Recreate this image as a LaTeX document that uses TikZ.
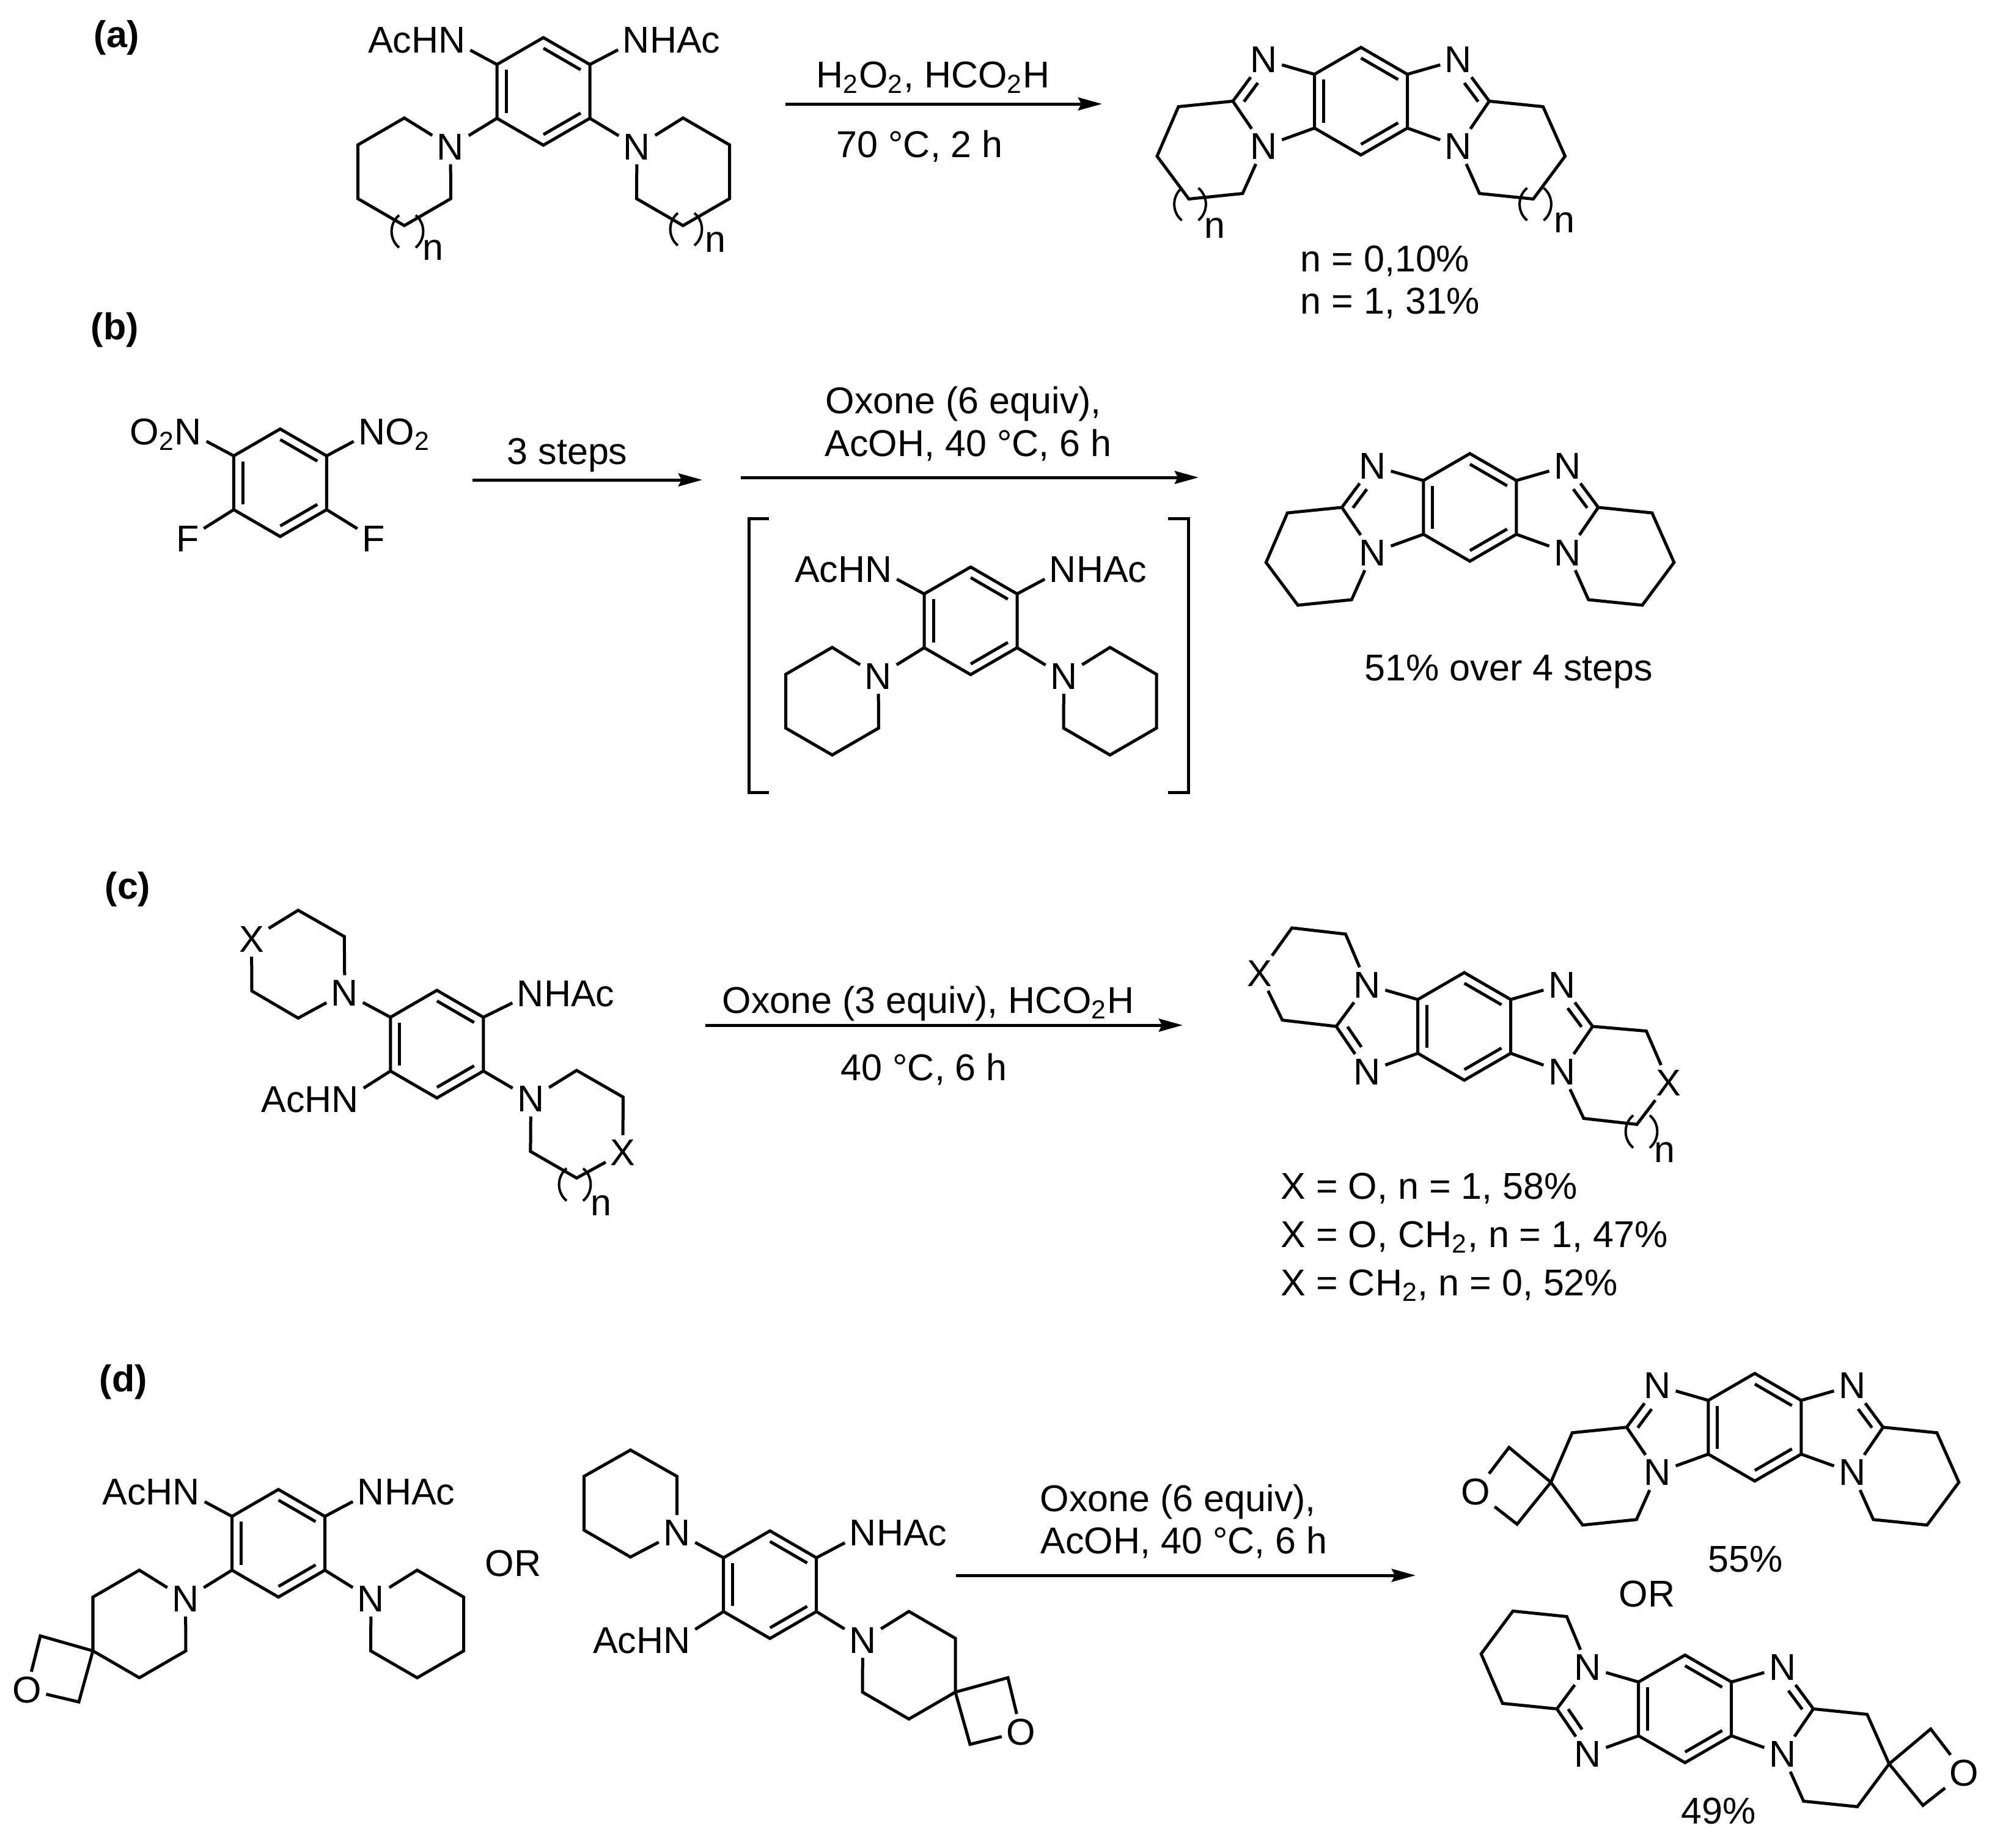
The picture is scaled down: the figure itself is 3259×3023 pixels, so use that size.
\documentclass[tikz,border=0pt]{standalone}
\usepackage{fontspec}
\setmainfont{Liberation Sans}
\usetikzlibrary{arrows.meta, calc}

\tikzset{
    every node/.style={font=\fontsize{17.36}{21}\selectfont},
    bond/.style={line width=.05cm},
    paren/.style={line width=.04cm},
    atom/.style={inner sep=2pt},
    txt/.style={anchor=base west, inner sep=0pt},
    rxn/.style={line width=.05cm, -{Stealth[length=.39cm, width=.21cm, inset=.05cm]}}
}

\newcommand{\inbond}[4]{
    \draw[bond] ($(#1)!#3!(#2)!.15cm!90:(#2)$) -- ($(#1)!#4!(#2)!.15cm!90:(#2)$);
}
\newcommand{\arene}[3]{
    \coordinate (#1t) at (#2, #3-88);
    \coordinate (#1ul) at (#2-76, #3-44);
    \coordinate (#1ur) at (#2+76, #3-44);
    \coordinate (#1ll) at (#2-76, #3+44);
    \coordinate (#1lr) at (#2+76, #3+44);
    \coordinate (#1b) at (#2, #3+88);
    \draw[bond] (#1t) -- (#1ul) -- (#1ll) -- (#1b) -- (#1lr) -- (#1ur) -- cycle;
    \inbond{#1ur}{#1t}{.1}{.9}
    \inbond{#1ul}{#1ll}{.1}{.9}
    \inbond{#1b}{#1lr}{.1}{.9}
}
\newcommand{\fused}[3]{
    \arene{#1}{#2}{#3}
    \node[atom] (#1n1) at (#2-159, #3-68) {N};
    \node[atom] (#1n2) at (#2-159, #3+74) {N};
    \node[atom] (#1n3) at (#2+159.5, #3-68) {N};
    \node[atom] (#1n4) at (#2+159.5, #3+74) {N};
    \coordinate (#1cl) at (#2-209.5, #3);
    \coordinate (#1cr) at (#2+210, #3);
    \draw[bond] (#1ul) -- (#1n1);
    \draw[bond] (#1ll) -- (#1n2);
    \draw[bond] (#1ur) -- (#1n3);
    \draw[bond] (#1lr) -- (#1n4);
    \draw[bond] (#1n1) -- (#1cl) -- (#1n2);
    \draw[bond] (#1n3) -- (#1cr) -- (#1n4);
    \inbond{#1cr}{#1n3}{.12}{.57}
}
\newcommand{\lring}[3]{
    \draw[bond] (#1cl) -- ++(-89, #3*9) -- ++(-35, #3*81) coordinate (#1sl)
        -- ++(52, #3*70) -- ++(88, #3*-9) -- (#1#2);
}
\newcommand{\rring}[1]{
    \draw[bond] (#1cr) -- ++(88, 9) -- ++(36, 81) coordinate (#1sr)
        -- ++(-52, 70) -- ++(-88, -9) -- (#1n4);
}
\newcommand{\pipring}[2]{
    \draw[bond] (#1) -- ++(#2*75.5, -47) -- ++(#2*76, 44) -- ++(0, 88) coordinate (#1s)
        -- ++(#2*-76, 44) -- ++(#2*-76, -44) -- (#1);
}
\newcommand{\loopn}[2]{
    \draw[paren] (#1-13.5, #2-26.5) .. controls (#1-30, #2-13) and (#1-30, #2+13) .. (#1-13.5, #2+26.5);
    \draw[paren] (#1+13.5, #2-26.5) .. controls (#1+30, #2-13) and (#1+30, #2+13) .. (#1+13.5, #2+26.5);
}

\begin{document}
\begin{tikzpicture}[x=.01cm, y=-.01cm]
            \useasboundingbox (0, 0) rectangle (3259, 3023);

            \node[txt] (taga) at (153, 77) {\textbf{(a)}};
            \node[txt] (tagb) at (148, 555) {\textbf{(b)}};
            \node[txt] (tagc) at (171, 1470) {\textbf{(c)}};
            \node[txt] (tagd) at (162, 2276) {\textbf{(d)}};

            \arene{a1}{889}{149.5}
            \node[atom] (a1ac) at (739.5, 66) {\llap{AcH}N};
            \node[atom] (a1nh) at (1041, 66) {N\rlap{HAc}};
            \node[atom] (a1nl) at (737, 240) {N};
            \node[atom] (a1nr) at (1042, 240) {N};
            \draw[bond] (a1ul) -- (a1ac);
            \draw[bond] (a1ur) -- (a1nh);
            \draw[bond] (a1ll) -- (a1nl);
            \draw[bond] (a1lr) -- (a1nr);
            \pipring{a1nl}{-1}
            \pipring{a1nr}{1}
            \loopn{666.5}{378.5}
            \loopn{1122.5}{375}
            \node[txt] (a1n) at (691, 425) {n};
            \node[txt] (a1m) at (1153, 412.5) {n};

            \coordinate (ra0) at (1285, 170);
            \coordinate (ra1) at (1803, 170);
            \draw[rxn] (ra0) -- (ra1);
            \node[txt] (rat) at (1335, 143) {H\textsubscript{2}O\textsubscript{2}, HCO\textsubscript{2}H};
            \node[txt] (rab) at (1368, 257) {70 °C, 2 h};

            \fused{ap}{2226.5}{165.5}
            \inbond{apn1}{apcl}{.43}{.88}
            \lring{ap}{n2}{1}
            \rring{ap}
            \loopn{1947}{334}
            \loopn{2512}{334}
            \node[txt] (apn) at (1970, 389) {n};
            \node[txt] (apm) at (2542, 380) {n};
            \node[txt] (apy) at (2127, 444) {n = 0,10\%};
            \node[txt] (apz) at (2127, 513) {n = 1, 31\%};

            \arene{b0}{458.4}{789.7}
            \node[atom] (b0no) at (308, 706) {\smash{\llap{O\textsubscript{2}}}N};
            \node[atom] (b0np) at (608.5, 706) {N\smash{\rlap{O\textsubscript{2}}}};
            \node[atom] (b0fl) at (307, 881) {F};
            \node[atom] (b0fr) at (611, 881) {F};
            \draw[bond] (b0ul) -- (b0no);
            \draw[bond] (b0ur) -- (b0np);
            \draw[bond] (b0ll) -- (b0fl);
            \draw[bond] (b0lr) -- (b0fr);

            \coordinate (rb0) at (773, 785);
            \coordinate (rb1) at (1149, 785);
            \draw[rxn] (rb0) -- (rb1);
            \node[txt] (rbs) at (829, 759) {3 steps};
            \coordinate (rc0) at (1212, 781);
            \coordinate (rc1) at (1961, 781);
            \draw[rxn] (rc0) -- (rc1);
            \node[txt] (rct) at (1350, 676) {Oxone (6 equiv),};
            \node[txt] (rcb) at (1349, 746) {AcOH, 40 °C, 6 h};

            \foreach \name/\x/\y in {bka/1258/848, bkb/1225/848, bkc/1225/1296, bkd/1258/1296,
                    bke/1911/848, bkf/1944/848, bkg/1944/1296, bkh/1911/1296}
                \coordinate (\name) at (\x, \y);
            \draw[bond] (bka) -- (bkb) -- (bkc) -- (bkd);
            \draw[bond] (bke) -- (bkf) -- (bkg) -- (bkh);

            \arene{b1}{1588}{1015.5}
            \node[atom] (b1ac) at (1437.5, 931.5) {\llap{AcH}N};
            \node[atom] (b1nh) at (1739, 931.5) {N\rlap{HAc}};
            \node[atom] (b1nl) at (1437, 1106) {N};
            \node[atom] (b1nr) at (1740.5, 1106) {N};
            \draw[bond] (b1ul) -- (b1ac);
            \draw[bond] (b1ur) -- (b1nh);
            \draw[bond] (b1ll) -- (b1nl);
            \draw[bond] (b1lr) -- (b1nr);
            \pipring{b1nl}{-1}
            \pipring{b1nr}{1}

            \fused{bp}{2404.8}{830}
            \inbond{bpn1}{bpcl}{.43}{.88}
            \lring{bp}{n2}{1}
            \rring{bp}
            \node[txt] (bpy) at (2232, 1113.5) {51\% over 4 steps};

            \arene{c1}{714.8}{1708}
            \node[atom] (c1nl) at (564, 1624) {N};
            \node[atom] (c1xl) at (411.5, 1536) {X};
            \node[atom] (c1nh) at (868, 1626) {N\rlap{HAc}};
            \node[atom] (c1ac) at (565, 1799) {\llap{AcH}N};
            \node[atom] (c1nr) at (868.5, 1797.5) {N};
            \node[atom] (c1xr) at (1019, 1885.7) {X};
            \foreach \name/\x/\y in {c1p/563.3/1532, c1q/487.8/1489, c1r/412/1621, c1s/487.8/1665.4,
                    c1t2/943.4/1751, c1u/1019.4/1794.6, c1v/943.4/1927, c1w/867.9/1883.5}
                \coordinate (\name) at (\x, \y);
            \draw[bond] (c1ul) -- (c1nl);
            \draw[bond] (c1ur) -- (c1nh);
            \draw[bond] (c1ll) -- (c1ac);
            \draw[bond] (c1lr) -- (c1nr);
            \draw[bond] (c1nl) -- (c1p) -- (c1q) -- (c1xl) -- (c1r) -- (c1s) -- (c1nl);
            \draw[bond] (c1nr) -- (c1t2) -- (c1u) -- (c1xr) -- (c1v) -- (c1w) -- (c1nr);
            \loopn{940.5}{1937.7}
            \node[txt] (c1n) at (966, 1988.5) {n};

            \coordinate (rd0) at (1154, 1677);
            \coordinate (rd1) at (1935, 1677);
            \draw[rxn] (rd0) -- (rd1);
            \node[txt] (rdt) at (1181, 1657) {Oxone (3 equiv), HCO\textsubscript{2}H};
            \node[txt] (rdb) at (1375, 1767) {40 °C, 6 h};

            \fused{cp}{2395.6}{1679}
            \inbond{cpcl}{cpn2}{.12}{.57}
            \node[atom] (cpxl) at (2060.5, 1592) {X};
            \node[atom] (cpxr) at (2730, 1771) {X};
            \foreach \name/\x/\y in {cpe/2098/1668.7, cpf/2113.6/1517.9, cpg/2201.4/1528,
                    cph/2693.4/1686.6, cpi/2678/1839.3, cpj/2591/1829.5}
                \coordinate (\name) at (\x, \y);
            \draw[bond] (cpcl) -- (cpe) -- (cpxl) -- (cpf) -- (cpg) -- (cpn1);
            \draw[bond] (cpcr) -- (cph) -- (cpxr) -- (cpi) -- (cpj) -- (cpn4);
            \loopn{2685.5}{1851}
            \node[txt] (cpn) at (2705.5, 1901.8) {n};
            \node[txt] (cpu) at (2095, 1961) {X = O, n = 1, 58\%};
            \node[txt] (cpv) at (2095, 2040) {X = O, CH\textsubscript{2}, n = 1, 47\%};
            \node[txt] (cpw) at (2095, 2119.6) {X = CH\textsubscript{2}, n = 0, 52\%};

            \arene{d1}{455.5}{2524.5}
            \node[atom] (d1ac) at (305, 2440.5) {\llap{AcH}N};
            \node[atom] (d1nh) at (607, 2440.5) {N\rlap{HAc}};
            \node[atom] (d1nl) at (303.5, 2615.5) {N};
            \node[atom] (d1nr) at (607, 2615.5) {N};
            \node[atom] (d1o) at (44, 2764) {O};
            \coordinate (d1x) at (66, 2676);
            \coordinate (d1y) at (129, 2784);
            \draw[bond] (d1ul) -- (d1ac);
            \draw[bond] (d1ur) -- (d1nh);
            \draw[bond] (d1ll) -- (d1nl);
            \draw[bond] (d1lr) -- (d1nr);
            \pipring{d1nl}{-1}
            \pipring{d1nr}{1}
            \draw[bond] (d1nls) -- (d1x) -- (d1o) -- (d1y) -- (d1nls);
            \node[txt] (dor) at (793, 2578) {OR};

            \arene{d2}{1259.7}{2592.2}
            \node[atom] (d2nl) at (1107.5, 2507) {N};
            \node[atom] (d2nh) at (1412, 2508) {N\rlap{HAc}};
            \node[atom] (d2ac) at (1107.5, 2684) {\llap{AcH}N};
            \node[atom] (d2nr) at (1411.5, 2683) {N};
            \node[atom] (d2o) at (1670.5, 2833) {O};
            \coordinate (d2x) at (1649, 2744.4);
            \coordinate (d2y) at (1587, 2853.4);
            \draw[bond] (d2ul) -- (d2nl);
            \draw[bond] (d2ur) -- (d2nh);
            \draw[bond] (d2ll) -- (d2ac);
            \draw[bond] (d2lr) -- (d2nr);
            \draw[bond] (d2nl) -- ++(0, -92) -- ++(-76, -43) -- ++(-76, 43) -- ++(0, 88) -- ++(76, 44) -- (d2nl);
            \pipring{d2nr}{1}
            \draw[bond] (d2nrs) -- (d2x) -- (d2o) -- (d2y) -- (d2nrs);

            \coordinate (re0) at (1564, 2577);
            \coordinate (re1) at (2316, 2577);
            \draw[rxn] (re0) -- (re1);
            \node[txt] (ret) at (1701, 2472) {Oxone (6 equiv),};
            \node[txt] (reb) at (1702, 2541.5) {AcOH, 40 °C, 6 h};

            \fused{dp}{2870.8}{2334.7}
            \inbond{dpn1}{dpcl}{.43}{.88}
            \lring{dp}{n2}{1}
            \rring{dp}
            \node[atom] (dpo) at (2413.8, 2440) {O};
            \coordinate (dpx) at (2468.8, 2367.7);
            \coordinate (dpy) at (2482, 2493.3);
            \draw[bond] (dpsl) -- (dpx) -- (dpo) -- (dpy) -- (dpsl);
            \node[txt] (dpz) at (2794, 2571.7) {55\%};
            \node[txt] (dpor) at (2648, 2628) {OR};

            \fused{dq}{2756.7}{2795.4}
            \inbond{dqcl}{dqn2}{.12}{.57}
            \lring{dq}{n1}{-1}
            \rring{dq}
            \node[atom] (dqo) at (3213.7, 2900) {O};
            \coordinate (dqx) at (3158.7, 2828.3);
            \coordinate (dqy) at (3146, 2953.3);
            \draw[bond] (dqsr) -- (dqx) -- (dqo) -- (dqy) -- (dqsr);
            \node[txt] (dqz) at (2750, 2983.3) {49\%};
\end{tikzpicture}
\end{document}
